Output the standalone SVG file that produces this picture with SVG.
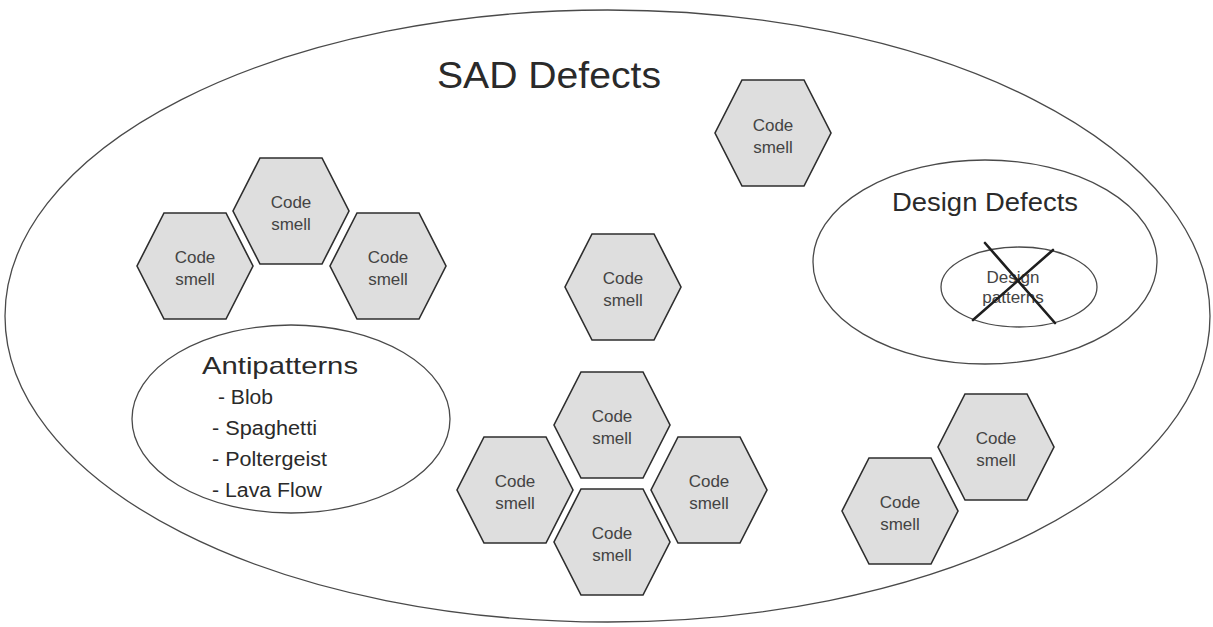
<svg xmlns="http://www.w3.org/2000/svg" width="1213" height="627" viewBox="0 0 1213 627">
<style>
.ell{fill:none;stroke:#4a4a4a;stroke-width:1.3}
.hex{fill:#dedede;stroke:#2e2e2e;stroke-width:1.6;stroke-linejoin:miter}
.cs{font-family:"Liberation Sans",Arial,sans-serif;font-size:17px;fill:#444;text-anchor:middle}
.title{font-family:"Liberation Sans",Arial,sans-serif;fill:#2a2a2a}
.cross{stroke:#1e1e1e;stroke-width:2.6;stroke-linecap:round}
</style>
<defs>
<polygon id="hx" points="-31,-53 31,-53 58,0 31,53 -31,53 -58,0"/>
</defs>
<rect width="1213" height="627" fill="#fff"/>

<g id="sad-defects">
<ellipse class="ell" cx="607.5" cy="316" rx="602.5" ry="306"/>
<text class="title" x="437" y="88" font-size="36" textLength="224" lengthAdjust="spacingAndGlyphs">SAD Defects</text>
</g>

<g id="antipatterns">
<ellipse class="ell" cx="291" cy="419" rx="159" ry="94"/>
<text class="title" x="202" y="374" font-size="24" textLength="156" lengthAdjust="spacingAndGlyphs">Antipatterns</text>
<text class="title" x="218" y="404" font-size="20" textLength="55" lengthAdjust="spacingAndGlyphs">- Blob</text>
<text class="title" x="212" y="435" font-size="20" textLength="105" lengthAdjust="spacingAndGlyphs">- Spaghetti</text>
<text class="title" x="212" y="466" font-size="20" textLength="115" lengthAdjust="spacingAndGlyphs">- Poltergeist</text>
<text class="title" x="212" y="497" font-size="20" textLength="110" lengthAdjust="spacingAndGlyphs">- Lava Flow</text>
</g>

<g id="design-defects">
<ellipse class="ell" cx="985" cy="262" rx="172" ry="102"/>
<text class="title" x="892" y="211" font-size="25" textLength="186" lengthAdjust="spacingAndGlyphs">Design Defects</text>
</g>

<g id="design-patterns">
<ellipse class="ell" cx="1019" cy="287" rx="78" ry="40"/>
<text class="cs" x="1013" y="283" font-size="15" fill="#555">Design</text>
<text class="cs" x="1013" y="303" font-size="15" fill="#555">patterns</text>
<line class="cross" x1="985" y1="243" x2="1055" y2="323"/>
<line class="cross" x1="1053" y1="250" x2="973" y2="320"/>
</g>

<g id="smell-1" transform="translate(773,133)"><use href="#hx" class="hex"/><text class="cs" y="-2">Code</text><text class="cs" y="20">smell</text></g>
<g id="smell-2" transform="translate(291,211)"><use href="#hx" class="hex"/><text class="cs" y="-3">Code</text><text class="cs" y="19">smell</text></g>
<g id="smell-3" transform="translate(195,266)"><use href="#hx" class="hex"/><text class="cs" y="-3">Code</text><text class="cs" y="19">smell</text></g>
<g id="smell-4" transform="translate(388,266)"><use href="#hx" class="hex"/><text class="cs" y="-3">Code</text><text class="cs" y="19">smell</text></g>
<g id="smell-5" transform="translate(623,287)"><use href="#hx" class="hex"/><text class="cs" y="-3">Code</text><text class="cs" y="19">smell</text></g>
<g id="smell-6" transform="translate(612,425)"><use href="#hx" class="hex"/><text class="cs" y="-3">Code</text><text class="cs" y="19">smell</text></g>
<g id="smell-7" transform="translate(515,490)"><use href="#hx" class="hex"/><text class="cs" y="-3">Code</text><text class="cs" y="19">smell</text></g>
<g id="smell-8" transform="translate(709,490)"><use href="#hx" class="hex"/><text class="cs" y="-3">Code</text><text class="cs" y="19">smell</text></g>
<g id="smell-9" transform="translate(612,542)"><use href="#hx" class="hex"/><text class="cs" y="-3">Code</text><text class="cs" y="19">smell</text></g>
<g id="smell-10" transform="translate(996,447)"><use href="#hx" class="hex"/><text class="cs" y="-3">Code</text><text class="cs" y="19">smell</text></g>
<g id="smell-11" transform="translate(900,511)"><use href="#hx" class="hex"/><text class="cs" y="-3">Code</text><text class="cs" y="19">smell</text></g>

<g id="connectors"/>
</svg>
